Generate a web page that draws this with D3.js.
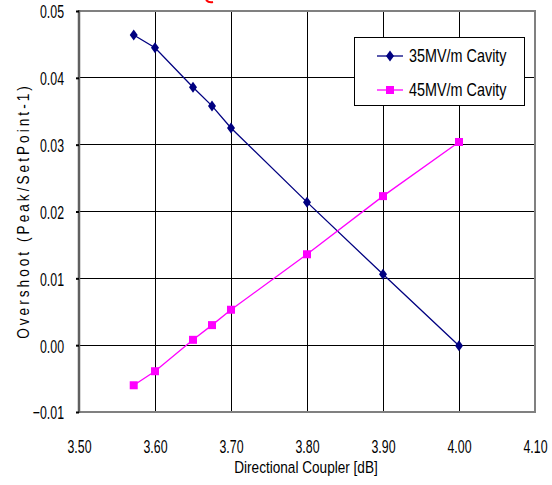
<!DOCTYPE html>
<html><head><meta charset="utf-8">
<script src="https://cdn.jsdelivr.net/npm/d3@7"></script>
<style>body{margin:0;background:#fff}svg{display:block}text{font-family:"Liberation Sans",Arial,sans-serif}</style>
</head><body>
<svg id="c" width="552" height="485"></svg>
<script>
const xValues = [3.572, 3.60, 3.65, 3.675, 3.70, 3.80, 3.90, 4.00];
const series35 = [0.0464, 0.0445, 0.0386, 0.0358, 0.0325, 0.0214, 0.0106, -0.0001];
const series45 = [-0.0060, -0.0039, 0.0008, 0.0030, 0.0053, 0.0136, 0.0223, 0.0304];
const seriesNames = ["35MV/m Cavity", "45MV/m Cavity"];
const xTicks = [3.50, 3.60, 3.70, 3.80, 3.90, 4.00, 4.10];
const yTicks = [-0.01, 0.00, 0.01, 0.02, 0.03, 0.04, 0.05];
const xTitle = "Directional Coupler [dB]";
const yTitle = "Overshoot (Peak/SetPoint-1)";

const svg = d3.select("#c");
const L = 79, R = 535, T = 11, B = 412;
const x = d3.scaleLinear().domain([3.5, 4.1]).range([L, R]);
const y = d3.scaleLinear().domain([-0.01, 0.05]).range([B, T]);

function squeeze(sel, sx) {
  sel.each(function() {
    const t = d3.select(this);
    const tx = +t.attr("x") || 0, ty = +t.attr("y") || 0;
    t.attr("x", 0).attr("y", 0).attr("transform", `translate(${tx},${ty}) scale(${sx},1)`);
  });
}

// grid
svg.append("g").selectAll("line").data(xTicks.slice(1, -1)).join("line")
  .attr("x1", d => x(d)).attr("x2", d => x(d)).attr("y1", T).attr("y2", B)
  .attr("stroke", "#000").attr("stroke-width", 1).attr("shape-rendering", "crispEdges");
svg.append("g").selectAll("line").data(yTicks.slice(1, -1)).join("line")
  .attr("x1", L).attr("x2", R).attr("y1", d => y(d)).attr("y2", d => y(d))
  .attr("stroke", "#000").attr("stroke-width", 1).attr("shape-rendering", "crispEdges");

// frame
svg.append("rect").attr("x", L).attr("y", T).attr("width", R - L).attr("height", B - T)
  .attr("fill", "none").attr("stroke", "#808080").attr("stroke-width", 2);
svg.append("line").attr("x1", L).attr("x2", L).attr("y1", T - 1).attr("y2", B + 1)
  .attr("stroke", "#606060").attr("stroke-width", 2.5);

// axes
const fmt = d => d3.format(".2f")(d).replace("-", "\u2212");
const yAxis = d3.axisLeft(y).tickValues(yTicks).tickFormat(fmt).tickSize(3).tickPadding(12);
const gy = svg.append("g").attr("transform", `translate(${L},0)`).call(yAxis);
gy.select(".domain").remove();
gy.selectAll("line").attr("stroke", "#000").attr("stroke-width", 2);
gy.selectAll("text").attr("font-size", 19).attr("fill", "#000").attr("dy", "0.36em");
squeeze(gy.selectAll("text"), 0.65);

const xAxis = d3.axisBottom(x).tickValues(xTicks).tickFormat(d3.format(".2f")).tickSize(0).tickPadding(27);
const gx = svg.append("g").attr("transform", `translate(0,${B})`).call(xAxis);
gx.select(".domain").remove();
gx.selectAll("text").attr("font-size", 19).attr("fill", "#000");
squeeze(gx.selectAll("text"), 0.65);

// titles
svg.append("text").attr("transform", "translate(306,473) scale(0.8,1)").attr("text-anchor", "middle")
  .attr("font-size", 17).text(xTitle);
svg.append("text").attr("transform", "translate(29,211) rotate(-90) scale(0.8,1)").attr("text-anchor", "middle")
  .attr("font-size", 17).attr("letter-spacing", 3.8).text(yTitle);

// series
const data35 = xValues.map((v, i) => [v, series35[i]]);
const data45 = xValues.map((v, i) => [v, series45[i]]);
const line = d3.line().x(d => x(d[0])).y(d => y(d[1]));
svg.append("path").datum(data35).attr("d", line).attr("fill", "none").attr("stroke", "#000080").attr("stroke-width", 1.3);
svg.append("path").datum(data45).attr("d", line).attr("fill", "none").attr("stroke", "#FF00FF").attr("stroke-width", 1.3);

const diamond = "M0,-5.5L4,0L0,5.5L-4,0Z";
svg.append("g").selectAll("path").data(data35).join("path")
  .attr("transform", d => `translate(${x(d[0])},${y(d[1])})`).attr("d", diamond).attr("fill", "#000080");
svg.append("g").selectAll("rect").data(data45).join("rect")
  .attr("x", d => x(d[0]) - 4).attr("y", d => y(d[1]) - 4).attr("width", 8).attr("height", 8).attr("fill", "#FF00FF");

// legend
const lg = svg.append("g");
lg.append("rect").attr("x", 354.5).attr("y", 37.5).attr("width", 170).attr("height", 68)
  .attr("fill", "#fff").attr("stroke", "#000").attr("stroke-width", 1);
const items = [{name: seriesNames[0], color: "#000080", shape: "d", yy: 56},
               {name: seriesNames[1], color: "#FF00FF", shape: "s", yy: 90}];
items.forEach(it => {
  lg.append("line").attr("x1", 377).attr("x2", 403).attr("y1", it.yy).attr("y2", it.yy)
    .attr("stroke", it.color).attr("stroke-width", 1.3);
  if (it.shape === "d") lg.append("path").attr("transform", `translate(390,${it.yy})`).attr("d", diamond).attr("fill", it.color);
  else lg.append("rect").attr("x", 386).attr("y", it.yy - 4).attr("width", 8).attr("height", 8).attr("fill", it.color);
  lg.append("text").attr("transform", `translate(409,${it.yy + 6}) scale(0.8,1)`).attr("font-size", 18).text(it.name);
});

// cropped red annotation fragment at top
svg.append("path").attr("d", "M206,0 Q209,3 213,2").attr("fill", "none").attr("stroke", "#ff0000").attr("stroke-width", 2);
</script>
</body></html>
